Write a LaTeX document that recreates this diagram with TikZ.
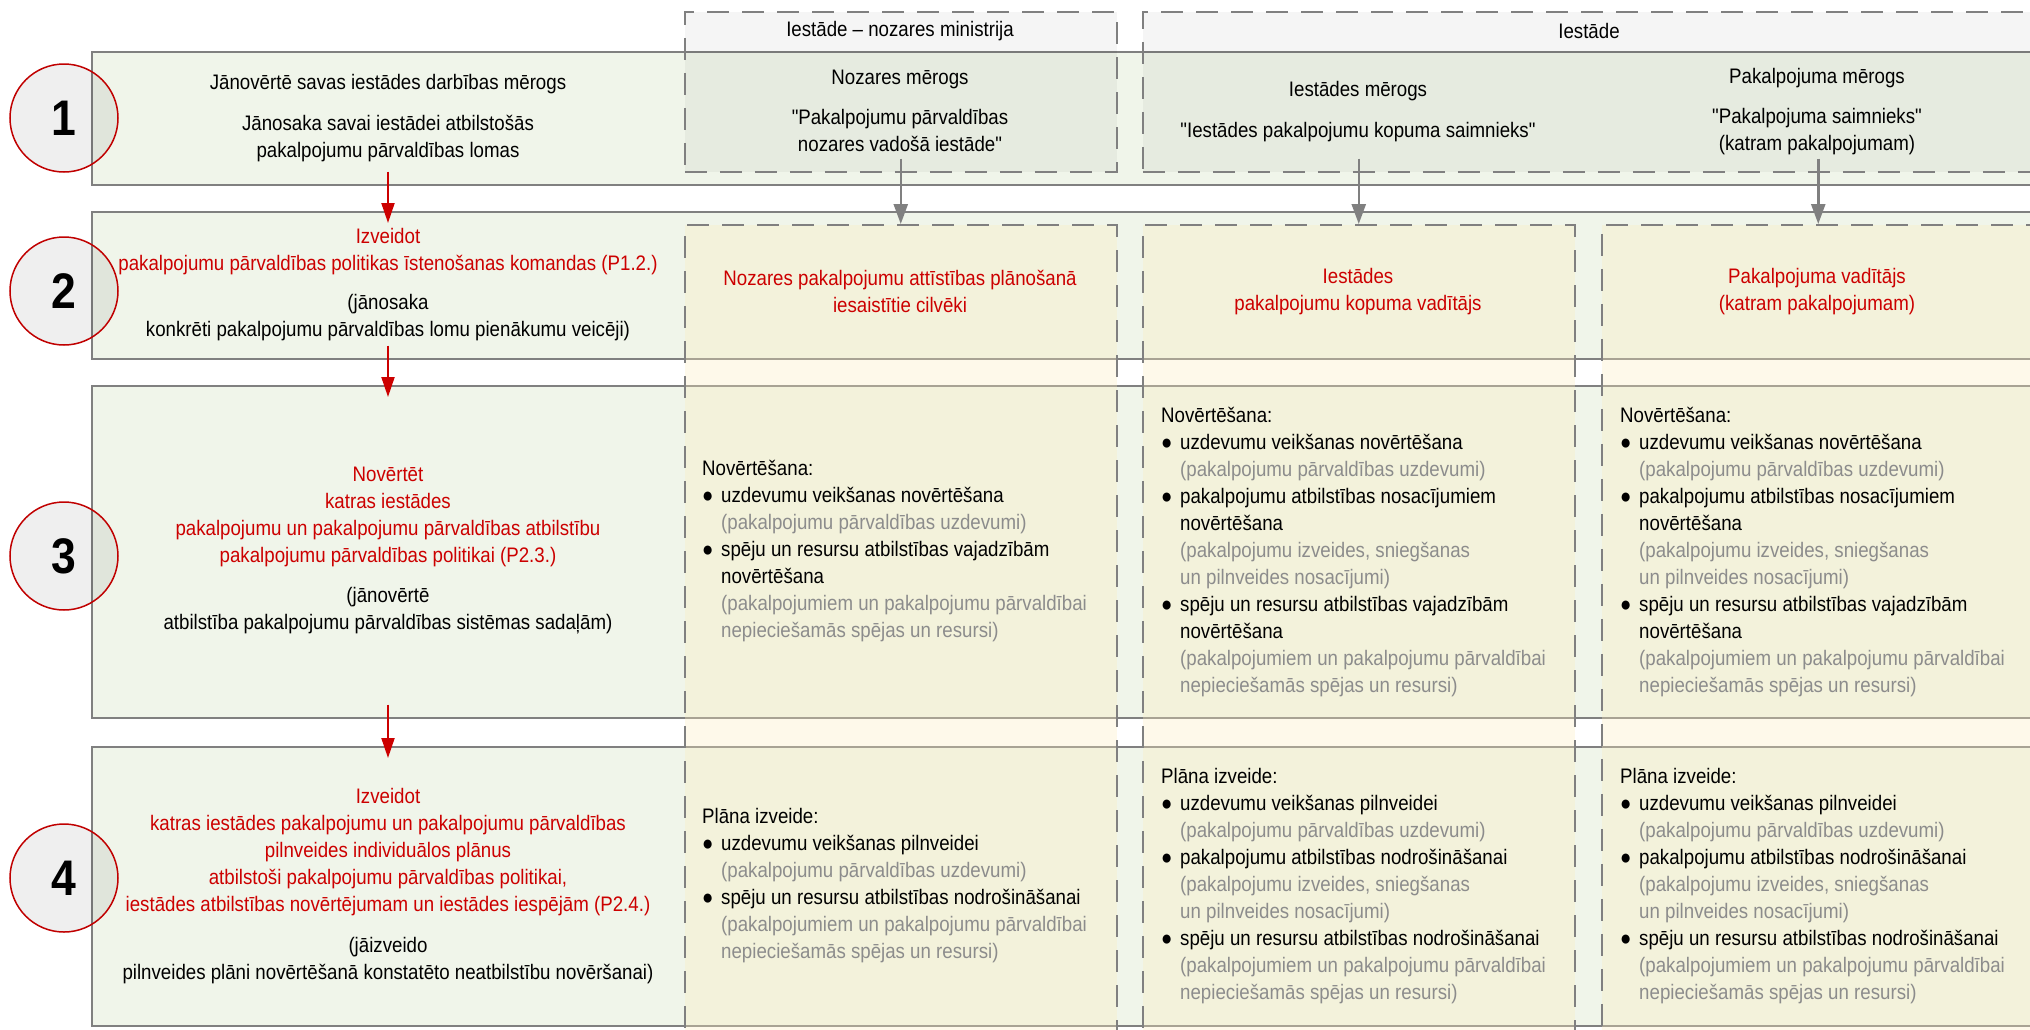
\documentclass[tikz,border=0pt]{standalone}
\usepackage{fontspec}
\setmainfont{Liberation Sans}[FakeStretch=0.89, Ligatures=TeXOff]
\usetikzlibrary{arrows.meta}

\definecolor{rowgreen}{HTML}{F0F5EA}
\definecolor{linegray}{HTML}{808080}
\definecolor{stepred}{HTML}{C00000}
\definecolor{textred}{HTML}{CC0000}
\definecolor{notegray}{HTML}{8C8C8C}
\definecolor{colcream}{RGB}{252,237,191}

% bullet line, indented line, grey note line, black line
\newcommand{\bul}[1]{\makebox[19pt][l]{●}#1}
\newcommand{\ind}[1]{\makebox[19pt][l]{}#1}
\newcommand{\note}[1]{\makebox[19pt][l]{}\textcolor{notegray}{#1}}
\newcommand{\blk}[1]{\textcolor{black}{#1}}

\tikzset{
  every node/.style={font=\fontsize{21}{27}\selectfont, inner sep=0pt},
  rowbox/.style={draw=linegray, line width=1.5pt, fill=rowgreen, anchor=north west, minimum width=1980pt},
  colhead/.style={draw=linegray, line width=1.5pt, dash pattern=on 22pt off 13pt,
    fill=black, fill opacity=0.04, anchor=north west},
  colbody/.style={draw=linegray, line width=1.5pt, dash pattern=on 22pt off 13pt,
    fill=colcream, fill opacity=0.33, anchor=north west},
  stepnum/.style={circle, draw=stepred, line width=1.5pt, fill=black, fill opacity=0.063,
    text opacity=1, minimum size=108pt, font=\fontsize{50}{50}\selectfont\bfseries},
  redarrow/.style={draw=textred, line width=2pt, -{Triangle[length=20pt,width=13pt,fill=textred]}},
  grayarrow/.style={draw=linegray, line width=2.5pt, -{Triangle[length=20pt,width=14pt,fill=linegray]}},
  coltext/.style={align=left, anchor=west},
}

\begin{document}
\begin{tikzpicture}[x=1pt, y=-1pt]
    \useasboundingbox (0,0) rectangle (2030,1029);
    \clip (0,0) rectangle (2030,1029);

    % Rows of the procedure
    \node[rowbox, minimum height=133pt] (r1) at (91,51) {};
    \node[rowbox, minimum height=147pt] (r2) at (91,211) {};
    \node[rowbox, minimum height=332pt] (r3) at (91,385) {};
    \node[rowbox, minimum height=279pt] (r4) at (91,746) {};

    % Columns: ministry and institution
    \node[colhead, minimum width=432pt, minimum height=160pt] (hA) at (684,11) {};
    \node[colhead, minimum width=920pt, minimum height=160pt] (hB) at (1142,11) {};
    \node[colbody, minimum width=432pt, minimum height=840pt] (cA) at (684,224) {};
    \node[colbody, minimum width=432pt, minimum height=840pt] (cB1) at (1142,224) {};
    \node[colbody, minimum width=433pt, minimum height=840pt] (cB2) at (1601,224) {};

    % Step numbers
    \node[stepnum] (n1) at (64,118) {1};
    \node[stepnum] (n2) at (64,291) {2};
    \node[stepnum] (n3) at (64,556) {3};
    \node[stepnum] (n4) at (64,878) {4};

    % Column headers
    \node (tA) at (900,31) {Iestāde – nozares ministrija};
    \node (tB) at (1589,31) {Iestāde};

    % Step 1
    \node[align=center] (s1) at (388,118)
      {Jānovērtē savas iestādes darbības mērogs\\[14pt]
       Jānosaka savai iestādei atbilstošās\\pakalpojumu pārvaldības lomas};
    \node[align=center] (s1A) at (900,111)
      {Nozares mērogs\\[13pt]"Pakalpojumu pārvaldības\\nozares vadošā iestāde"};
    \node[align=center] (s1B1) at (1358,111.5)
      {Iestādes mērogs\\[14pt]"Iestādes pakalpojumu kopuma saimnieks"};
    \node[align=center] (s1B2) at (1817,111.5)
      {Pakalpojuma mērogs\\[13pt]"Pakalpojuma saimnieks"\\(katram pakalpojumam)};

    % Step 2
    \node[align=center, text=textred] (s2) at (388,284.5)
      {Izveidot\\pakalpojumu pārvaldības politikas īstenošanas komandas (P1.2.)\\[12pt]
       \blk{(jānosaka}\\\blk{konkrēti pakalpojumu pārvaldības lomu pienākumu veicēji)}};
    \node[align=center, text=textred] (s2A) at (900,291.5)
      {Nozares pakalpojumu attīstības plānošanā\\iesaistītie cilvēki};
    \node[align=center, text=textred] (s2B1) at (1358,291.5)
      {Iestādes\\pakalpojumu kopuma vadītājs};
    \node[align=center, text=textred] (s2B2) at (1817,291.5)
      {Pakalpojuma vadītājs\\(katram pakalpojumam)};

    % Step 3
    \node[align=center, text=textred] (s3) at (388,550)
      {Novērtēt\\katras iestādes\\pakalpojumu un pakalpojumu pārvaldības atbilstību\\
       pakalpojumu pārvaldības politikai (P2.3.)\\[13pt]
       \blk{(jānovērtē}\\\blk{atbilstība pakalpojumu pārvaldības sistēmas sadaļām)}};
    \node[coltext] (s3A) at (702,551.5)
      {Novērtēšana:\\
       \bul{uzdevumu veikšanas novērtēšana}\\
       \note{(pakalpojumu pārvaldības uzdevumi)}\\
       \bul{spēju un resursu atbilstības vajadzībām}\\
       \ind{novērtēšana}\\
       \note{(pakalpojumiem un pakalpojumu pārvaldībai}\\
       \note{nepieciešamās spējas un resursi)}};
    \foreach \cx/\nm in {1161/s3B1, 1620/s3B2}
      \node[coltext] (\nm) at (\cx,552)
        {Novērtēšana:\\
         \bul{uzdevumu veikšanas novērtēšana}\\
         \note{(pakalpojumu pārvaldības uzdevumi)}\\
         \bul{pakalpojumu atbilstības nosacījumiem}\\
         \ind{novērtēšana}\\
         \note{(pakalpojumu izveides, sniegšanas}\\
         \note{un pilnveides nosacījumi)}\\
         \bul{spēju un resursu atbilstības vajadzībām}\\
         \ind{novērtēšana}\\
         \note{(pakalpojumiem un pakalpojumu pārvaldībai}\\
         \note{nepieciešamās spējas un resursi)}};

    % Step 4
    \node[align=center, text=textred] (s4) at (388,886.5)
      {Izveidot\\katras iestādes pakalpojumu un pakalpojumu pārvaldības\\
       pilnveides individuālos plānus\\atbilstoši pakalpojumu pārvaldības politikai,\\
       iestādes atbilstības novērtējumam un iestādes iespējām (P2.4.)\\[14pt]
       \blk{(jāizveido}\\\blk{pilnveides plāni novērtēšanā konstatēto neatbilstību novēršanai)}};
    \node[coltext] (s4A) at (702,886)
      {Plāna izveide:\\
       \bul{uzdevumu veikšanas pilnveidei}\\
       \note{(pakalpojumu pārvaldības uzdevumi)}\\
       \bul{spēju un resursu atbilstības nodrošināšanai}\\
       \note{(pakalpojumiem un pakalpojumu pārvaldībai}\\
       \note{nepieciešamās spējas un resursi)}};
    \foreach \cx/\nm in {1161/s4B1, 1620/s4B2}
      \node[coltext] (\nm) at (\cx,886)
        {Plāna izveide:\\
         \bul{uzdevumu veikšanas pilnveidei}\\
         \note{(pakalpojumu pārvaldības uzdevumi)}\\
         \bul{pakalpojumu atbilstības nodrošināšanai}\\
         \note{(pakalpojumu izveides, sniegšanas}\\
         \note{un pilnveides nosacījumi)}\\
         \bul{spēju un resursu atbilstības nodrošināšanai}\\
         \note{(pakalpojumiem un pakalpojumu pārvaldībai}\\
         \note{nepieciešamās spējas un resursi)}};

    % Flow between steps
    \coordinate (lx) at (388,0);
    \draw[redarrow] ([yshift=14pt]r1.south -| lx) -- ([yshift=-12pt]r2.north -| lx);
    \draw[redarrow] ([yshift=14pt]r2.south -| lx) -- ([yshift=-12pt]r3.north -| lx);
    \draw[redarrow] ([yshift=14pt]r3.south -| lx) -- ([yshift=-12pt]r4.north -| lx);

    % Roles handed down to the columns
    \draw[grayarrow] ([yshift=14pt]hA.south) -- (cA.north);
    \draw[grayarrow] ([yshift=14pt]hB.south -| cB1.north) -- (cB1.north);
    \draw[grayarrow] ([yshift=14pt]hB.south -| cB2.north) -- (cB2.north);
\end{tikzpicture}
\end{document}
